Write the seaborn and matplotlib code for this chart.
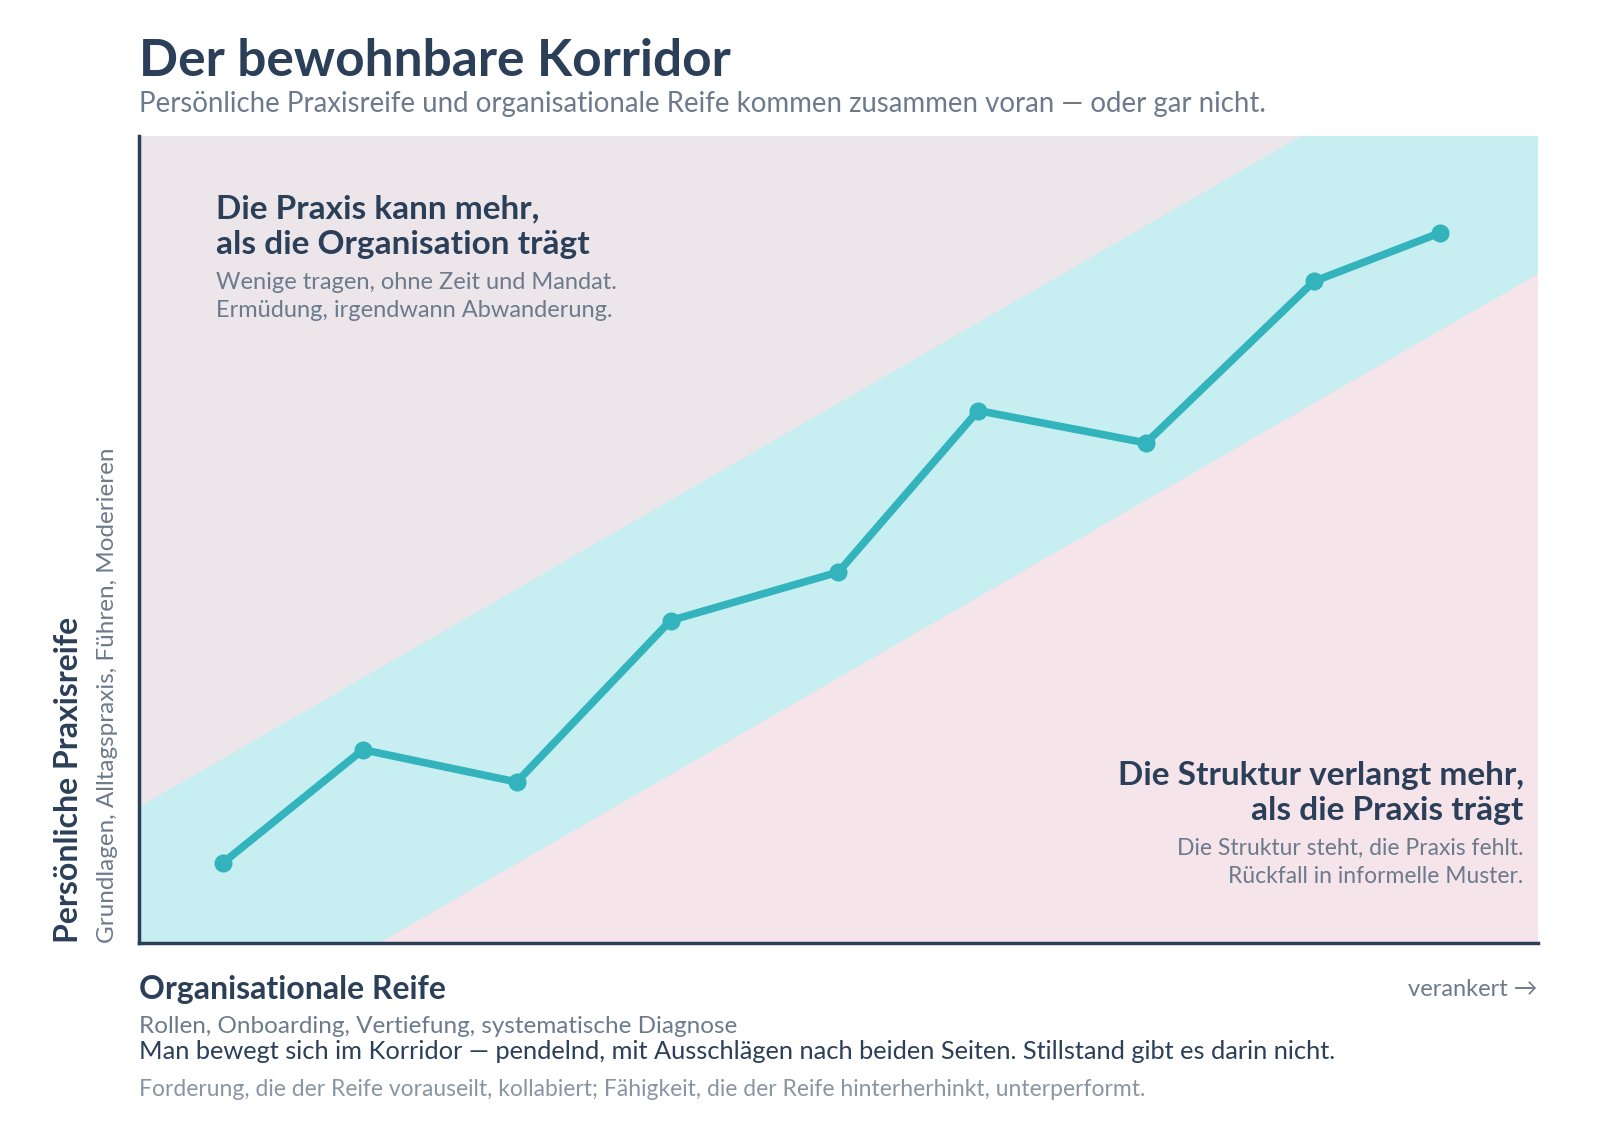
import numpy as np
import pandas as pd
import matplotlib
matplotlib.use("Agg")
import matplotlib.pyplot as plt
import seaborn as sns

# Daten (Achsen 0..1)
org_reife = [0.06, 0.16, 0.27, 0.38, 0.50, 0.60, 0.72, 0.84, 0.93]
praxis_reife = [0.10, 0.24, 0.20, 0.40, 0.46, 0.66, 0.62, 0.82, 0.88]
korridor_x = [0.0, 1.0]
korridor_oben = [0.17, 1.17]
korridor_unten = [-0.17, 0.83]

NAVY = "#2b3f58"
GREY = "#6c7a8b"
TEAL = "#33b4bd"
BAND = "#c7eef0"
UPPER = "#ece6eb"
LOWER = "#f5e4ea"

sns.set_theme(style="white")
plt.rcParams["font.family"] = ["Lato", "DejaVu Sans"]

fig = plt.figure(figsize=(16, 11.34), dpi=100)
ax = fig.add_axes([0.087, 0.168, 0.874, 0.712])

# Hintergrundzonen
ax.set_facecolor(UPPER)
ax.fill_between(korridor_x, [-1, -1], korridor_unten, color=LOWER, lw=0, zorder=0)
ax.fill_between(korridor_x, korridor_unten, korridor_oben, color=BAND, lw=0, zorder=0)

df = pd.DataFrame({"org": org_reife, "praxis": praxis_reife})
sns.lineplot(data=df, x="org", y="praxis", ax=ax, color=TEAL, lw=5.5,
             marker="o", markersize=13, markeredgewidth=0, sort=False, zorder=3)

ax.set_xlim(0, 1)
ax.set_ylim(0, 1)
ax.set_xticks([])
ax.set_yticks([])
ax.set_xlabel("")
ax.set_ylabel("")
for s in ["top", "right"]:
    ax.spines[s].set_visible(False)
for s in ["left", "bottom"]:
    ax.spines[s].set_color(NAVY)
    ax.spines[s].set_linewidth(2.5)

# Zonen-Beschriftungen
ax.text(0.055, 0.928, "Die Praxis kann mehr,\nals die Organisation trägt", transform=ax.transAxes,
        ha="left", va="top", fontsize=24, fontweight="bold", color=NAVY, linespacing=1.27)
ax.text(0.055, 0.832, "Wenige tragen, ohne Zeit und Mandat.\nErmüdung, irgendwann Abwanderung.",
        transform=ax.transAxes, ha="left", va="top", fontsize=17, color=GREY, linespacing=1.45)
ax.text(0.99, 0.226, "Die Struktur verlangt mehr,\nals die Praxis trägt", transform=ax.transAxes,
        ha="right", va="top", fontsize=24, fontweight="bold", color=NAVY, linespacing=1.27)
ax.text(0.99, 0.131, "Die Struktur steht, die Praxis fehlt.\nRückfall in informelle Muster.",
        transform=ax.transAxes, ha="right", va="top", fontsize=16.5, color=GREY, linespacing=1.45)

# Titel
fig.text(0.087, 0.946, "Der bewohnbare Korridor", ha="left", va="center",
         fontsize=37, fontweight="bold", color=NAVY)
fig.text(0.087, 0.908, "Persönliche Praxisreife und organisationale Reife kommen zusammen voran — oder gar nicht.",
         ha="left", va="center", fontsize=19.9, color=GREY)

# Achsentitel
fig.text(0.043, 0.168, "Persönliche Praxisreife", rotation=90, ha="center", va="bottom",
         fontsize=23, fontweight="bold", color=NAVY)
fig.text(0.067, 0.168, "Grundlagen, Alltagspraxis, Führen, Moderieren", rotation=90,
         ha="center", va="bottom", fontsize=17.5, color=GREY)
fig.text(0.087, 0.127, "Organisationale Reife", ha="left", va="center",
         fontsize=23, fontweight="bold", color=NAVY)
fig.text(0.961, 0.127, "verankert →", ha="right", va="center",
         fontsize=17, color=GREY)
fig.text(0.087, 0.095, "Rollen, Onboarding, Vertiefung, systematische Diagnose", ha="left",
         va="center", fontsize=17.5, color=GREY)
fig.text(0.087, 0.073, "Man bewegt sich im Korridor — pendelnd, mit Ausschlägen nach beiden Seiten. "
         "Stillstand gibt es darin nicht.", ha="left", va="center", fontsize=18.3, color=NAVY)
fig.text(0.087, 0.039, "Forderung, die der Reife vorauseilt, kollabiert; Fähigkeit, die der Reife "
         "hinterherhinkt, unterperformt.", ha="left", va="center", fontsize=16.5,
         color="#8a95a3")

fig.savefig("out.png", dpi=100, facecolor="white")
